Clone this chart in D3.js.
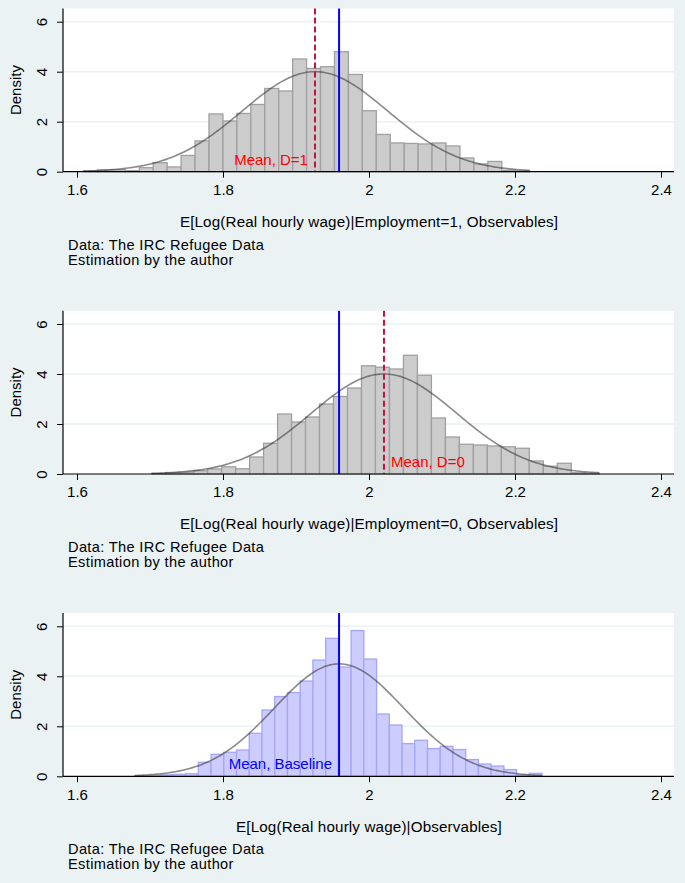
<!DOCTYPE html>
<html>
<head>
<meta charset="utf-8">
<script src="https://cdn.jsdelivr.net/npm/d3@7/dist/d3.min.js"></script>
<style>
  body { margin: 0; background: #eaf2f3; }
  svg { display: block; }
  text { font-family: "Liberation Sans", Arial, Helvetica, sans-serif; }
</style>
</head>
<body>
<svg id="chart" width="685" height="883"></svg>
<script>
// axis ticks
const xTicks = [1.6, 1.8, 2.0, 2.2, 2.4];
const yTicks = [0, 2, 4, 6];

// histogram densities (32 bins each)
const binsD1 = { start: 1.6089, width: 0.01910 };
const heightsD1 = [0.03, 0.07, 0.08, 0.04, 0.16, 0.36, 0.19, 0.65, 1.23, 2.31, 2.03, 2.33, 2.69, 3.33, 3.23, 4.51,
  4.13, 4.2, 4.8, 3.89, 2.44, 1.49, 1.15, 1.13, 1.11, 1.15, 1.03, 0.55, 0.31, 0.41, 0.05, 0.03];

const binsD0 = { start: 1.7023, width: 0.01916 };
const heightsD0 = [0.02, 0.06, 0.07, 0.13, 0.2, 0.29, 0.21, 0.68, 1.23, 2.4, 2.08, 2.28, 2.8, 3.1, 3.44, 4.33,
  4.27, 4.2, 4.75, 3.95, 2.24, 1.48, 1.19, 1.16, 1.12, 1.09, 1.03, 0.52, 0.31, 0.43, 0.05, 0.03];

const binsBase = { start: 1.679, width: 0.01744 };
const heightsBase = [0.02, 0.03, 0.06, 0.08, 0.1, 0.56, 0.88, 0.96, 1.05, 1.72, 2.65, 3.19, 3.35, 3.81, 4.65, 5.52,
  4.37, 5.83, 4.69, 2.49, 2.05, 1.31, 1.44, 1.11, 1.2, 1.07, 0.67, 0.49, 0.41, 0.27, 0.05, 0.12];

// normal overlay parameters (mean, sd)
const normD1 = [1.926, 0.0997];
const normD0 = [2.0205, 0.0997];
const normBase = [1.959, 0.0887];

const meanBaseline = 1.959;
const meanD1 = 1.926;
const meanD0 = 2.0205;

const xTitles = [
  'E[Log(Real hourly wage)|Employment=1, Observables]',
  'E[Log(Real hourly wage)|Employment=0, Observables]',
  'E[Log(Real hourly wage)|Observables]'
];
const notes = ['Data: The IRC Refugee Data', 'Estimation by the author'];

const svg = d3.select('#chart');

const plotLeft = 63, plotRight = 674;
const panelStep = 302.3;

const xScale = d3.scaleLinear().domain([1.6, 2.4]).range([77, 661]);

function drawPanel(idx, bins, heights, norm, opts) {
  const oy = idx * panelStep;
  const top = 8.5 + oy, bottom = 171.7 + oy;
  const g = svg.append('g');

  const yScale = d3.scaleLinear().domain([0, 6]).range([bottom, 21.7 + oy]);

  // plot region
  g.append('rect')
    .attr('x', plotLeft).attr('y', top)
    .attr('width', plotRight - plotLeft).attr('height', bottom - top)
    .attr('fill', '#ffffff');

  // gridlines
  g.selectAll('.grid')
    .data(yTicks.filter(d => d > 0))
    .enter().append('line')
    .attr('x1', plotLeft).attr('x2', plotRight)
    .attr('y1', d => yScale(d)).attr('y2', d => yScale(d))
    .attr('stroke', '#eaf2f3').attr('stroke-width', 1.5);

  // bars
  g.selectAll('.bar')
    .data(heights)
    .enter().append('rect')
    .attr('x', (d, i) => xScale(bins.start + i * bins.width))
    .attr('width', (d, i) => xScale(bins.start + (i + 1) * bins.width) - xScale(bins.start + i * bins.width))
    .attr('y', d => yScale(d))
    .attr('height', d => yScale(0) - yScale(d))
    .attr('fill', opts.fill)
    .attr('stroke', opts.stroke)
    .attr('stroke-width', 1.3);

  // normal density overlay
  const lo = bins.start, hi = bins.start + heights.length * bins.width;
  const xs = d3.range(0, 201).map(k => lo + (hi - lo) * k / 200);
  const dens = x => Math.exp(-0.5 * Math.pow((x - norm[0]) / norm[1], 2)) / (norm[1] * Math.sqrt(2 * Math.PI));
  const line = d3.line().x(d => xScale(d)).y(d => yScale(dens(d)));
  g.append('path')
    .attr('d', line(xs))
    .attr('fill', 'none')
    .attr('stroke', '#3c3c3c')
    .attr('stroke-opacity', 0.6)
    .attr('stroke-width', 1.6);

  // mean lines
  if (opts.dashed != null) {
    g.append('line')
      .attr('x1', xScale(opts.dashed)).attr('x2', xScale(opts.dashed))
      .attr('y1', top).attr('y2', bottom)
      .attr('stroke', '#c0143c').attr('stroke-width', 2)
      .attr('stroke-dasharray', '6,3');
  }
  g.append('line')
    .attr('x1', xScale(meanBaseline)).attr('x2', xScale(meanBaseline))
    .attr('y1', top).attr('y2', bottom)
    .attr('stroke', '#0000ff').attr('stroke-width', 2);

  // mean label
  g.append('text')
    .attr('x', xScale(opts.labelAt) + opts.labelDx)
    .attr('y', bottom - 7)
    .attr('text-anchor', opts.labelDx < 0 ? 'end' : 'start')
    .attr('fill', opts.labelColor)
    .attr('font-size', 15)
    .text(opts.label);

  // x axis
  const xAxis = d3.axisBottom(xScale).tickValues(xTicks).tickSize(6)
    .tickFormat(d => d3.format('~g')(d));
  const gx = g.append('g').attr('transform', 'translate(0,' + bottom + ')').call(xAxis);
  gx.select('.domain').remove();
  gx.selectAll('.tick line').attr('stroke', '#000').attr('stroke-width', 1);
  gx.selectAll('.tick text')
    .attr('font-size', 15).attr('font-family', '"Liberation Sans", Arial, sans-serif')
    .attr('fill', '#000').attr('y', 23.3).attr('dy', null);
  g.append('line')
    .attr('x1', plotLeft).attr('x2', plotRight)
    .attr('y1', bottom).attr('y2', bottom)
    .attr('stroke', '#000').attr('stroke-width', 1.2);

  // y axis
  const yAxis = d3.axisLeft(yScale).tickValues(yTicks).tickSize(6)
    .tickFormat(d => d3.format('~g')(d));
  const gy = g.append('g').attr('transform', 'translate(' + plotLeft + ',0)').call(yAxis);
  gy.select('.domain').remove();
  gy.selectAll('.tick line').attr('stroke', '#000').attr('stroke-width', 1);
  gy.selectAll('.tick text')
    .attr('font-size', 15).attr('font-family', '"Liberation Sans", Arial, sans-serif')
    .attr('fill', '#000')
    .attr('x', 0).attr('y', -16).attr('dy', null)
    .attr('text-anchor', 'middle')
    .attr('transform', 'rotate(-90)');
  g.append('line')
    .attr('x1', plotLeft).attr('x2', plotLeft)
    .attr('y1', top).attr('y2', bottom)
    .attr('stroke', '#000').attr('stroke-width', 1.2);

  // axis titles
  g.append('text')
    .attr('transform', 'translate(20.5,' + ((top + bottom) / 2) + ') rotate(-90)')
    .attr('text-anchor', 'middle')
    .attr('font-size', 15)
    .text('Density');

  g.append('text')
    .attr('x', xScale(2.0)).attr('y', 227 + oy)
    .attr('text-anchor', 'middle')
    .attr('font-size', 15.2)
    .attr('letter-spacing', 0.15)
    .text(xTitles[idx]);

  // notes
  g.selectAll('.note')
    .data(notes)
    .enter().append('text')
    .attr('x', 68)
    .attr('y', (d, i) => 249.5 + oy + i * 15)
    .attr('font-size', 14.6)
    .attr('letter-spacing', 0.35)
    .text(d => d);
}

drawPanel(0, binsD1, heightsD1, normD1, {
  fill: '#cccccc', stroke: '#a0a0a0', dashed: meanD1,
  label: 'Mean, D=1', labelAt: meanD1, labelDx: -7, labelColor: '#ff0000'
});
drawPanel(1, binsD0, heightsD0, normD0, {
  fill: '#cccccc', stroke: '#a0a0a0', dashed: meanD0,
  label: 'Mean, D=0', labelAt: meanD0, labelDx: 7, labelColor: '#ff0000'
});
drawPanel(2, binsBase, heightsBase, normBase, {
  fill: '#ccccff', stroke: '#a6a6f6', dashed: null,
  label: 'Mean, Baseline', labelAt: meanBaseline, labelDx: -7, labelColor: '#0000ff'
});
</script>
</body>
</html>
